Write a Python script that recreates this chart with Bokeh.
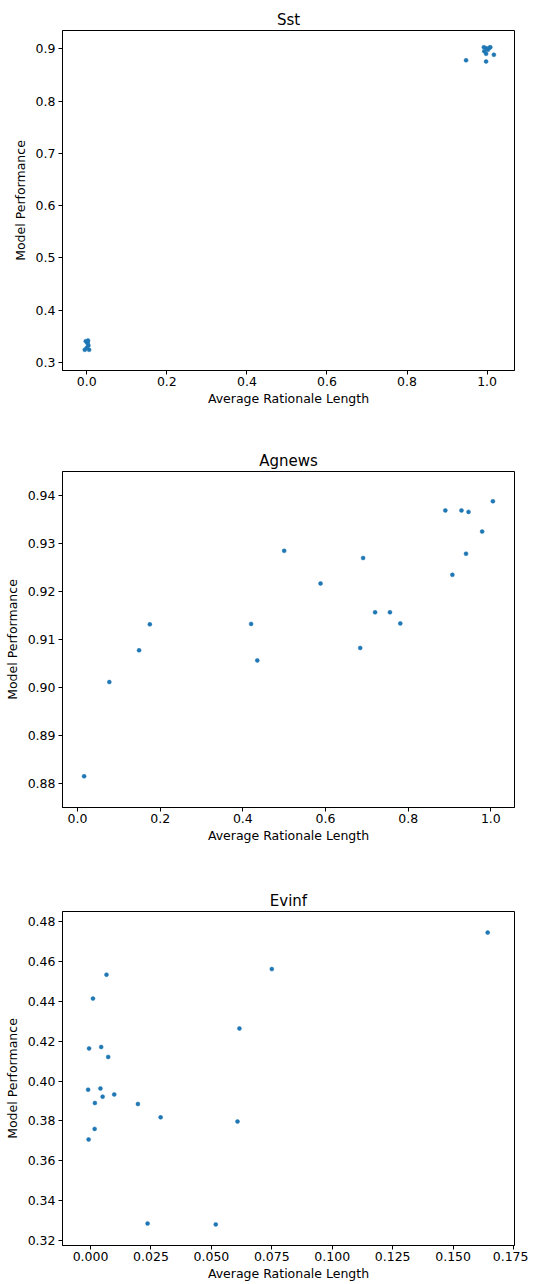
from bokeh.plotting import figure
from bokeh.layouts import column
from bokeh.models import Range1d, FixedTicker, PrintfTickFormatter
from bokeh.embed import file_html
from bokeh.resources import INLINE

COLOR = "#1f77b4"
FONT = "DejaVu Sans"

# ---- Sst ----
sst_x = [0.9475, 0.9975, 1.017, 0.992, 1.006, 0.9975, 0.993, 1.002, 1.008, 0.998,
         -0.0025, 0.003, 0.0017, 0.004, -0.005, 0.0058, 0.0, 0.002]
sst_y = [0.878, 0.8757, 0.8885, 0.903, 0.902, 0.8904, 0.8955, 0.898, 0.903, 0.901,
         0.3407, 0.342, 0.337, 0.3325, 0.3243, 0.3243, 0.328, 0.339]
sst_xticks = [0.0, 0.2, 0.4, 0.6, 0.8, 1.0]
sst_yticks = [0.3, 0.4, 0.5, 0.6, 0.7, 0.8, 0.9]

# ---- Agnews ----
ag_x = [0.016, 0.077, 0.149, 0.175, 0.420, 0.435, 0.500, 0.588, 0.684, 0.691,
        0.720, 0.756, 0.781, 0.890, 0.929, 0.946, 1.005, 0.979, 0.940, 0.907]
ag_y = [0.8816, 0.9012, 0.9078, 0.9132, 0.9133, 0.9057, 0.9285, 0.9217, 0.9083, 0.9270,
        0.9157, 0.9157, 0.9134, 0.9369, 0.9369, 0.9366, 0.9388, 0.9325, 0.9279, 0.9235]
ag_xticks = [0.0, 0.2, 0.4, 0.6, 0.8, 1.0]
ag_yticks = [0.88, 0.89, 0.90, 0.91, 0.92, 0.93, 0.94]

# ---- Evinf ----
ev_x = [0.0066, 0.0010, -0.0006, 0.0044, 0.0073, -0.0010, 0.0041, 0.0050, 0.0098, 0.0018,
        0.0196, 0.0290, 0.0017, -0.0008, 0.0236, 0.0518, 0.0608, 0.0616, 0.0750, 0.1643]
ev_y = [0.4534, 0.4414, 0.4164, 0.4171, 0.4121, 0.3957, 0.3963, 0.3922, 0.3933, 0.3890,
        0.3885, 0.3818, 0.3760, 0.3707, 0.3285, 0.3281, 0.3797, 0.4264, 0.4562, 0.4745]
ev_xticks = [0.0, 0.025, 0.05, 0.075, 0.1, 0.125, 0.15, 0.175]
ev_yticks = [0.32, 0.34, 0.36, 0.38, 0.40, 0.42, 0.44, 0.46, 0.48]


def make(title, xs, ys, xr, yr, xt, yt, xfmt, yfmt, height, bt, bb):
    p = figure(width=528, height=height, output_backend="svg", toolbar_location=None,
               x_range=Range1d(*xr), y_range=Range1d(*yr),
               min_border_left=62, min_border_right=14,
               min_border_top=bt, min_border_bottom=bb)
    p.title.text = title
    p.title.align = "center"
    p.title.text_font = FONT
    p.title.text_font_size = "15px"
    p.title.text_font_style = "normal"
    p.title.text_color = "black"
    p.title.standoff = 4
    p.grid.visible = False
    p.outline_line_color = "black"
    p.outline_line_width = 1
    p.background_fill_color = "white"
    p.border_fill_color = "white"
    p.xaxis.ticker = FixedTicker(ticks=xt)
    p.yaxis.ticker = FixedTicker(ticks=yt)
    p.xaxis.formatter = PrintfTickFormatter(format=xfmt)
    p.yaxis.formatter = PrintfTickFormatter(format=yfmt)
    p.xaxis.axis_label = "Average Rationale Length"
    p.yaxis.axis_label = "Model Performance"
    for ax in (p.xaxis, p.yaxis):
        ax.axis_label_text_font = FONT
        ax.axis_label_text_font_size = "12.5px"
        ax.axis_label_text_font_style = "normal"
        ax.axis_label_text_color = "black"
        ax.major_label_text_font = FONT
        ax.major_label_text_font_size = "12.5px"
        ax.major_label_text_color = "black"
        ax.minor_tick_line_color = None
        ax.major_tick_in = 0
        ax.major_tick_out = 4
        ax.major_tick_line_color = "black"
        ax.axis_line_color = "black"
    p.xaxis.major_label_standoff = 2
    p.xaxis.axis_label_standoff = 2
    p.yaxis.major_label_standoff = 3
    p.yaxis.axis_label_standoff = 5
    p.scatter(xs, ys, size=4, line_width=0.5, fill_color=COLOR, line_color=COLOR)
    return p


p1 = make("Sst", sst_x, sst_y, (-0.0607, 1.0685), (0.2847, 0.935),
          sst_xticks, sst_yticks, "%.1f", "%.1f", 447, 30, 77)
p2 = make("Agnews", ag_x, ag_y, (-0.0363, 1.0573), (0.8751, 0.945),
          ag_xticks, ag_yticks, "%.1f", "%.2f", 440, 22, 80)
p3 = make("Evinf", ev_x, ev_y, (-0.0116, 0.1754), (0.3175, 0.4851),
          ev_xticks, ev_yticks, "%.3f", "%.2f", 397, 22, 39)

layout = column(p1, p2, p3, spacing=0)
open("out.html", "w").write(file_html(layout, INLINE))
